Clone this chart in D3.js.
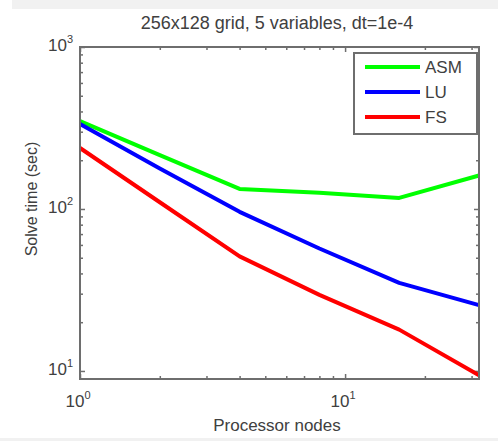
<!DOCTYPE html>
<html>
<head>
<meta charset="utf-8">
<script src="https://cdn.jsdelivr.net/npm/d3@7"></script>
<style>
  html, body { margin: 0; padding: 0; background: #fff; }
  svg { display: block; font-family: "Liberation Sans", Arial, sans-serif; }
</style>
</head>
<body>
<svg id="chart" width="498" height="441"></svg>
<script>
// ---- data ----
const nodes = [1, 2, 4, 8, 16, 32];
const asm = [349, 215, 133, 126, 117, 161];
const lu  = [335, 178, 96, 57, 35, 25.5];
const fs  = [238, 110, 51, 29.5, 18, 9.4];
const seriesNames = ["ASM", "LU", "FS"];
const seriesColors = ["#00ff00", "#0000ff", "#ff0000"];
const xMajorTicks = [1, 10];
const xTickExp = ["0", "1"];
const yMajorTicks = [10, 100, 1000];
const yTickExp = ["1", "2", "3"];
const titleText = "256x128 grid, 5 variables, dt=1e-4";
const xLabel = "Processor nodes";
const yLabel = "Solve time (sec)";

const svg = d3.select("#chart");
const L = 80, R = 479, T = 47, B = 379;
const axisColor = "#6e6e6e";

// faint frame bands like the reference screenshot
svg.append("rect").attr("x", 12).attr("y", 0).attr("width", 486).attr("height", 9).attr("fill", "#f1f1f1");
svg.append("rect").attr("x", 0).attr("y", 438).attr("width", 498).attr("height", 3).attr("fill", "#f1f1f1");

const x = d3.scaleLog().domain([1, 32]).range([L, R]);
const y = d3.scaleLog().domain([8.92, 1000]).range([B, T]);

// minor tick values
const xMinor = [];
[1, 10].forEach(d => { for (let k = 2; k <= 9; k++) { const v = d * k; if (v <= 32) xMinor.push(v); } });
const yMinor = [];
[1, 10, 100].forEach(d => { for (let k = 2; k <= 9; k++) { const v = d * k; if (v >= 8.92 && v <= 1000) yMinor.push(v); } });

function styleAxis(g) {
  g.select(".domain").remove();
  g.selectAll("line").attr("stroke", axisColor).attr("stroke-width", 1.5);
  g.selectAll("text").remove();
}
const maj = 5, mn = 3;
svg.append("g").attr("transform", `translate(0,${B})`).call(d3.axisBottom(x).tickValues(xMajorTicks).tickSize(-maj).tickFormat("")).call(styleAxis);
svg.append("g").attr("transform", `translate(0,${B})`).call(d3.axisBottom(x).tickValues(xMinor).tickSize(-mn).tickFormat("")).call(styleAxis);
svg.append("g").attr("transform", `translate(0,${T})`).call(d3.axisTop(x).tickValues(xMajorTicks).tickSize(-maj).tickFormat("")).call(styleAxis);
svg.append("g").attr("transform", `translate(0,${T})`).call(d3.axisTop(x).tickValues(xMinor).tickSize(-mn).tickFormat("")).call(styleAxis);
svg.append("g").attr("transform", `translate(${L},0)`).call(d3.axisLeft(y).tickValues(yMajorTicks).tickSize(-maj).tickFormat("")).call(styleAxis);
svg.append("g").attr("transform", `translate(${L},0)`).call(d3.axisLeft(y).tickValues(yMinor).tickSize(-mn).tickFormat("")).call(styleAxis);
svg.append("g").attr("transform", `translate(${R},0)`).call(d3.axisRight(y).tickValues(yMajorTicks).tickSize(-maj).tickFormat("")).call(styleAxis);
svg.append("g").attr("transform", `translate(${R},0)`).call(d3.axisRight(y).tickValues(yMinor).tickSize(-mn).tickFormat("")).call(styleAxis);

// lines
const line = d3.line().x((d, i) => x(nodes[i])).y(d => y(d));
[asm, lu, fs].forEach((vals, i) => {
  svg.append("path").datum(vals).attr("d", line)
    .attr("fill", "none").attr("stroke", seriesColors[i])
    .attr("stroke-width", 4).attr("stroke-linejoin", "round");
});

// frame
svg.append("rect").attr("x", L).attr("y", T).attr("width", R - L).attr("height", B - T)
  .attr("fill", "none").attr("stroke", axisColor).attr("stroke-width", 2);

// tick labels
const txtColor = "#404040";
xMajorTicks.forEach((v, i) => {
  const t = svg.append("text").attr("x", x(v) - 2).attr("y", 407).attr("text-anchor", "middle")
    .attr("fill", txtColor).attr("font-size", 17);
  t.append("tspan").text("10");
  t.append("tspan").attr("dy", -8).attr("font-size", 11).text(xTickExp[i]);
});
yMajorTicks.forEach((v, i) => {
  const t = svg.append("text").attr("x", 73).attr("y", y(v) + 4).attr("text-anchor", "end")
    .attr("fill", txtColor).attr("font-size", 17);
  t.append("tspan").text("10");
  t.append("tspan").attr("dy", -8).attr("font-size", 11).text(yTickExp[i]);
});

// title and axis labels
svg.append("text").attr("x", 277).attr("y", 29).attr("text-anchor", "middle")
  .attr("fill", txtColor).attr("font-size", 18).text(titleText);
svg.append("text").attr("x", 277).attr("y", 431).attr("text-anchor", "middle")
  .attr("fill", txtColor).attr("font-size", 17).text(xLabel);
svg.append("text").attr("transform", "translate(37,199) rotate(-90)").attr("text-anchor", "middle")
  .attr("fill", txtColor).attr("font-size", 16).text(yLabel);

// legend
const lg = svg.append("g");
lg.append("rect").attr("x", 354).attr("y", 53).attr("width", 123).attr("height", 81)
  .attr("fill", "#fff").attr("stroke", axisColor).attr("stroke-width", 2);
seriesNames.forEach((n, i) => {
  const yy = 67 + i * 25;
  lg.append("line").attr("x1", 365).attr("x2", 420).attr("y1", yy).attr("y2", yy)
    .attr("stroke", seriesColors[i]).attr("stroke-width", 4);
  lg.append("text").attr("x", 425).attr("y", yy + 6).attr("fill", txtColor)
    .attr("font-size", 17).text(n);
});
</script>
</body>
</html>
